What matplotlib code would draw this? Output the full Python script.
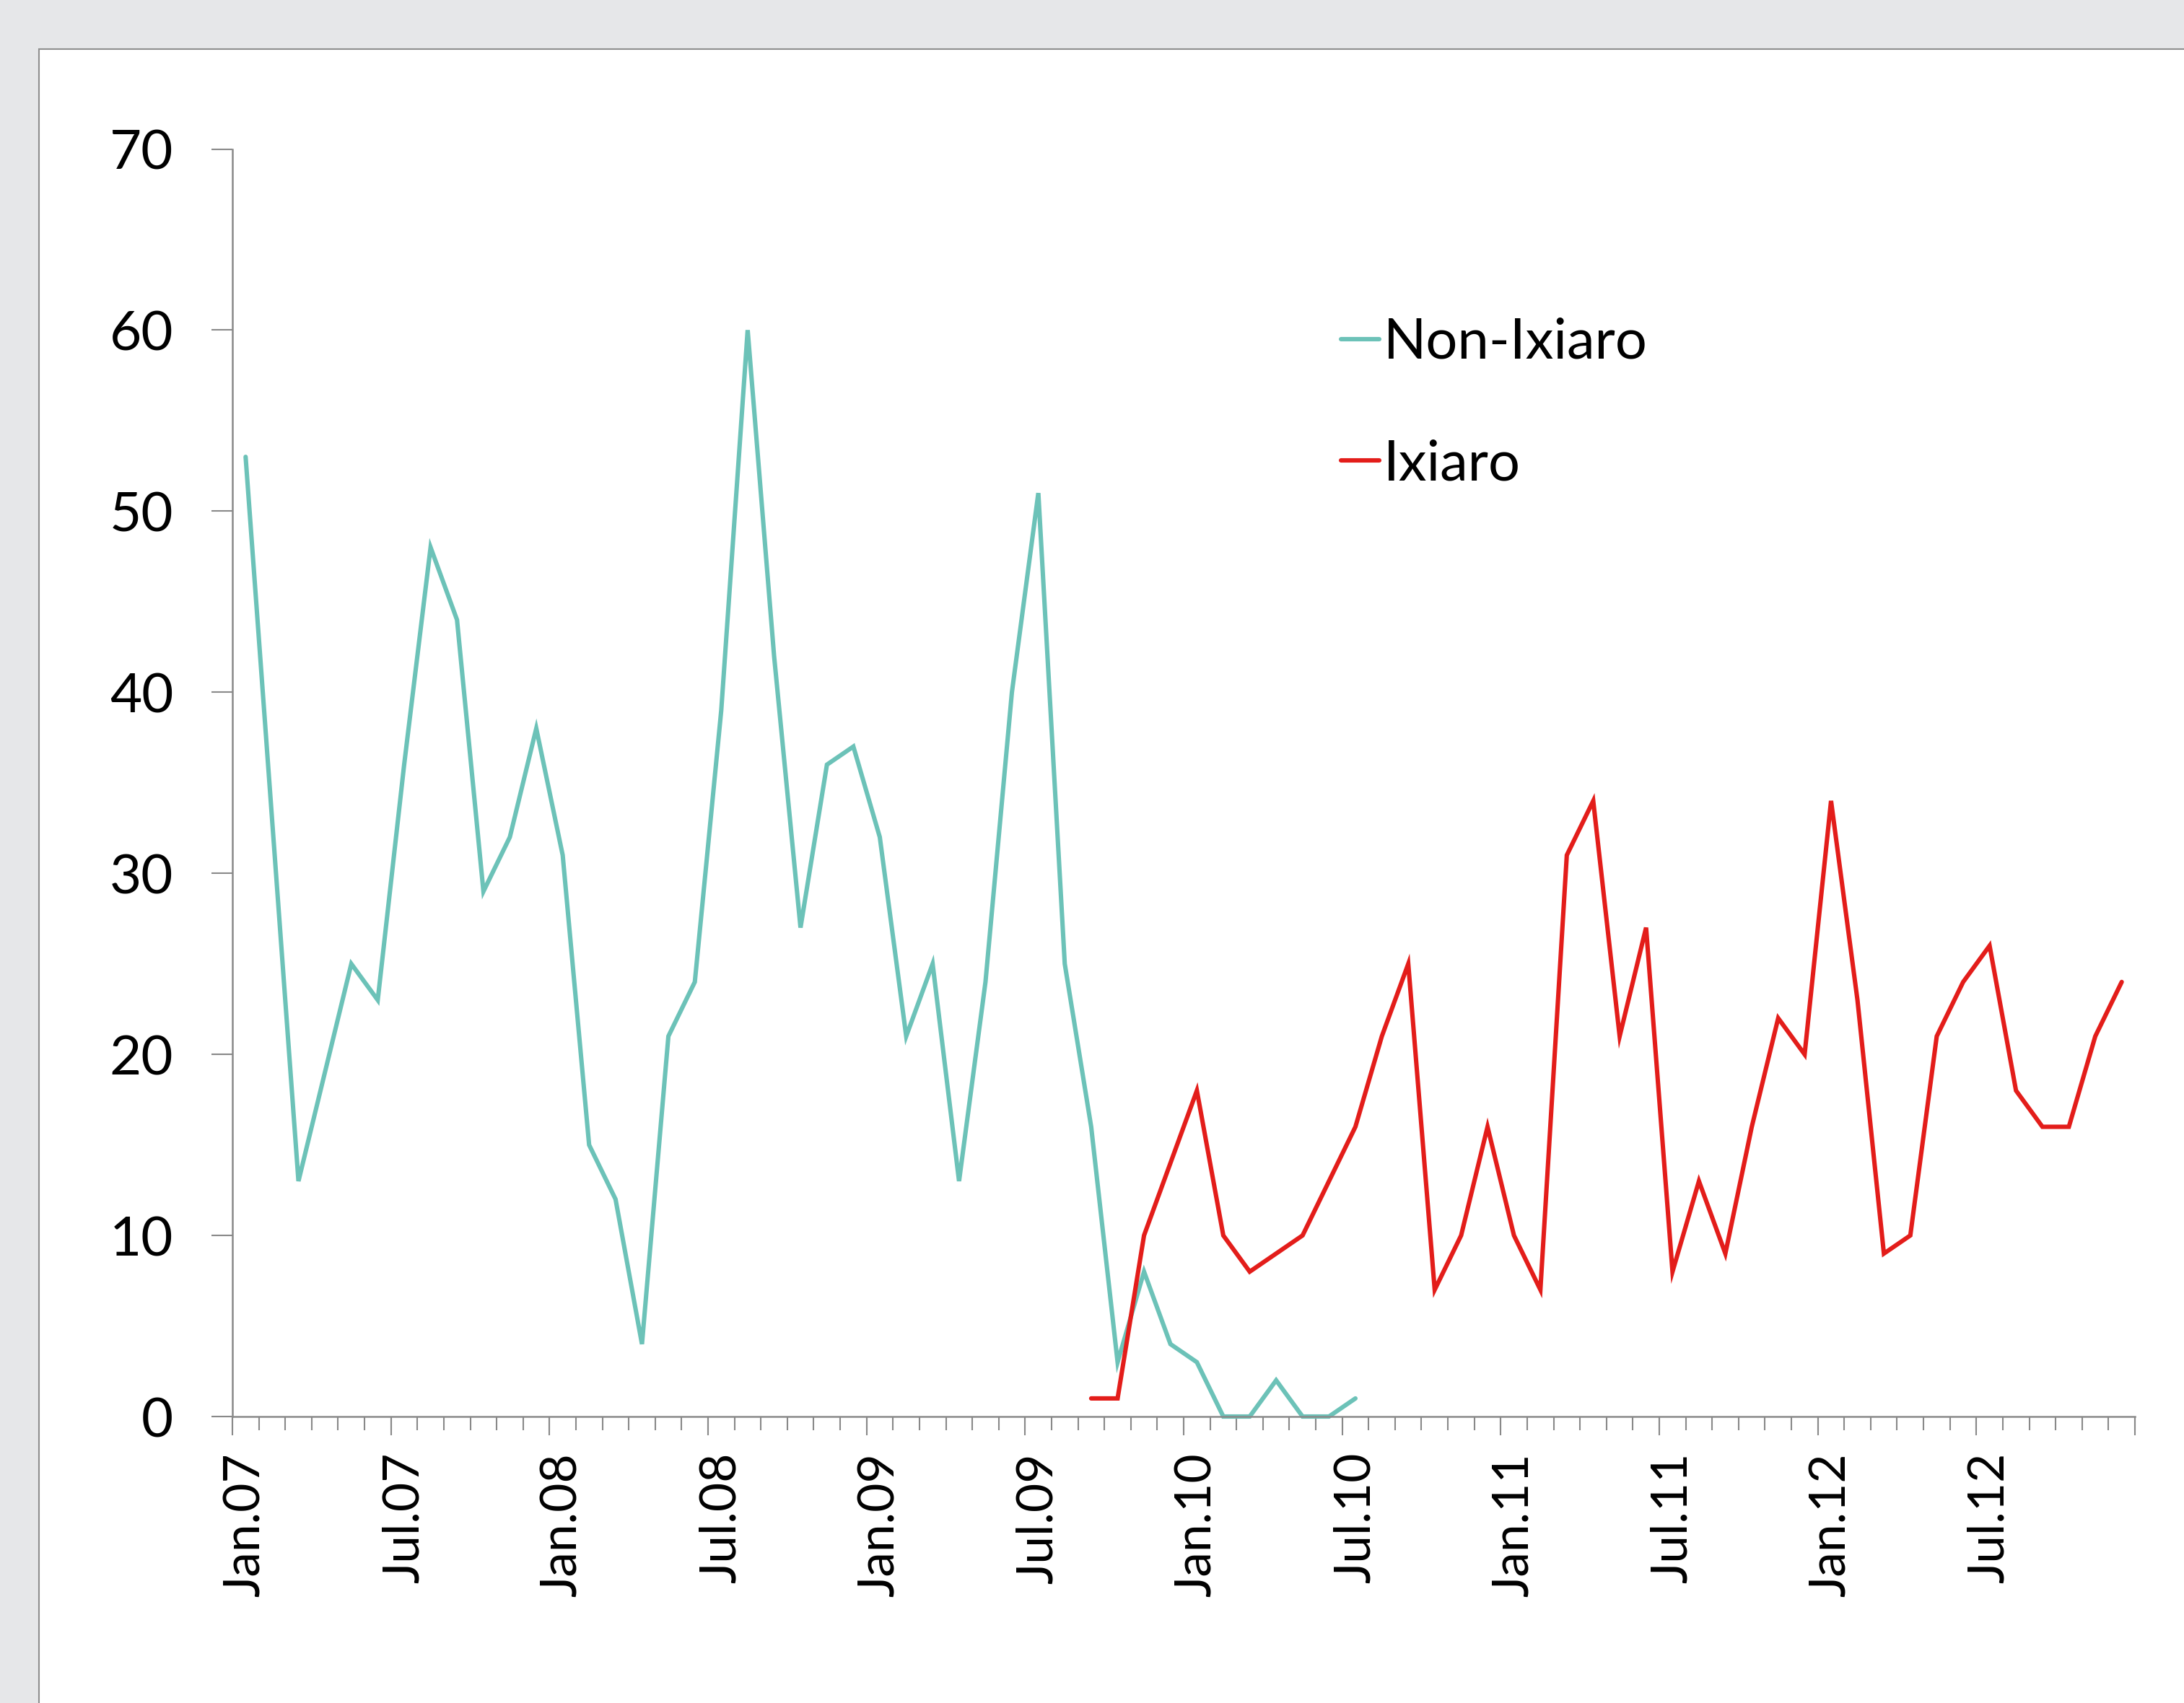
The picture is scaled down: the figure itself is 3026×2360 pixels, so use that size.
import matplotlib
matplotlib.use('Agg')
import matplotlib.pyplot as plt
import matplotlib.ticker as ticker
from matplotlib.patches import Rectangle
import numpy as np

# ── data (monthly counts, Jan.07 .. Dec.12) ───────────────────────
n_months = 72
tick_labels = ['Jan.07', 'Jul.07', 'Jan.08', 'Jul.08', 'Jan.09', 'Jul.09',
               'Jan.10', 'Jul.10', 'Jan.11', 'Jul.11', 'Jan.12', 'Jul.12']

non_ixiaro_start = 0
non_ixiaro = [53, 33, 13, 19, 25, 23, 36, 48, 44, 29, 32, 38,
              31, 15, 12, 4, 21, 24, 39, 60, 42, 27, 36, 37,
              32, 21, 25, 13, 24, 40, 51, 25, 16, 3, 8, 4,
              3, 0, 0, 2, 0, 0, 1]

ixiaro_start = 32
ixiaro = [1, 1, 10, 14, 18, 10, 8, 9, 10, 13, 16, 21,
          25, 7, 10, 16, 10, 7, 31, 34, 21, 27, 8, 13,
          9, 16, 22, 20, 34, 23, 9, 10, 21, 24, 26, 18,
          16, 16, 21, 24]

# ── style ────────────────────────────────────────────────────────
plt.rcParams['font.family'] = ['Lato', 'DejaVu Sans']
FS_X = 50
FS_Y = 55
FS_LEG = 56
AXIS_GREY = '#898989'
TEAL = '#6cc2b8'
RED = '#e31d1a'
LW = 4.4

W, H = 3026, 2360
fig = plt.figure(figsize=(W / 100, H / 100), dpi=100, facecolor='#e6e7e9')

# white chart panel with grey border
panel = Rectangle((54 / W, -0.05), 1.1, 1 - 68 / H + 0.05, transform=fig.transFigure,
                  facecolor='white', edgecolor='#8e8e8e', linewidth=1.5, zorder=-1)
fig.add_artist(panel)

ax = fig.add_axes([322 / W, 1 - 1963 / H, (2958 - 322) / W, (1963 - 206.5) / H])
ax.set_facecolor('none')

x_non = np.arange(non_ixiaro_start, non_ixiaro_start + len(non_ixiaro)) + 0.5
x_ix = np.arange(ixiaro_start, ixiaro_start + len(ixiaro)) + 0.5

ax.plot(x_non, non_ixiaro, color=TEAL, linewidth=LW, solid_capstyle='round',
        solid_joinstyle='miter', label='Non-Ixiaro', clip_on=False)
ax.plot(x_ix, ixiaro, color=RED, linewidth=LW, solid_capstyle='round',
        solid_joinstyle='miter', label='Ixiaro', clip_on=False)

ax.set_xlim(0, n_months)
ax.set_ylim(0, 70)

for s in ['top', 'right']:
    ax.spines[s].set_visible(False)
for s in ['left', 'bottom']:
    ax.spines[s].set_color(AXIS_GREY)
    ax.spines[s].set_linewidth(1.8)

# y axis
ax.yaxis.set_major_locator(ticker.MultipleLocator(10))
ax.tick_params(axis='y', direction='out', length=21, width=1.5, color=AXIS_GREY,
               pad=38, labelsize=FS_Y, labelcolor='black')

# x axis: labels at category centres, small ticks at every month boundary
label_pos = np.arange(0, n_months, 6) + 0.5
ax.set_xticks(label_pos)
ax.set_xticklabels(tick_labels, rotation=90, va='top', ha='center')
ax.set_xticks(np.arange(0, n_months + 1), minor=True)
ax.tick_params(axis='x', which='major', length=0, pad=36, labelsize=FS_X, labelcolor='black')
ax.tick_params(axis='x', which='minor', direction='out', length=13.7, width=1.5,
               color=AXIS_GREY)

# longer ticks at half-year boundaries
sec = ax.secondary_xaxis('bottom')
sec.set_xticks(np.arange(0, n_months + 1, 6))
sec.set_xticklabels([])
sec.tick_params(axis='x', direction='out', length=18.7, width=1.5, color=AXIS_GREY)
sec.spines['bottom'].set_visible(False)

# legend
ax.legend(loc='upper left', bbox_to_anchor=(1858 / W, 1 - 440 / H),
          bbox_transform=fig.transFigure, frameon=False, fontsize=FS_LEG,
          handlelength=0.68, handletextpad=0.08, labelspacing=1.25,
          borderpad=0, borderaxespad=0)

fig.savefig('out.png', dpi=100, facecolor=fig.get_facecolor())
